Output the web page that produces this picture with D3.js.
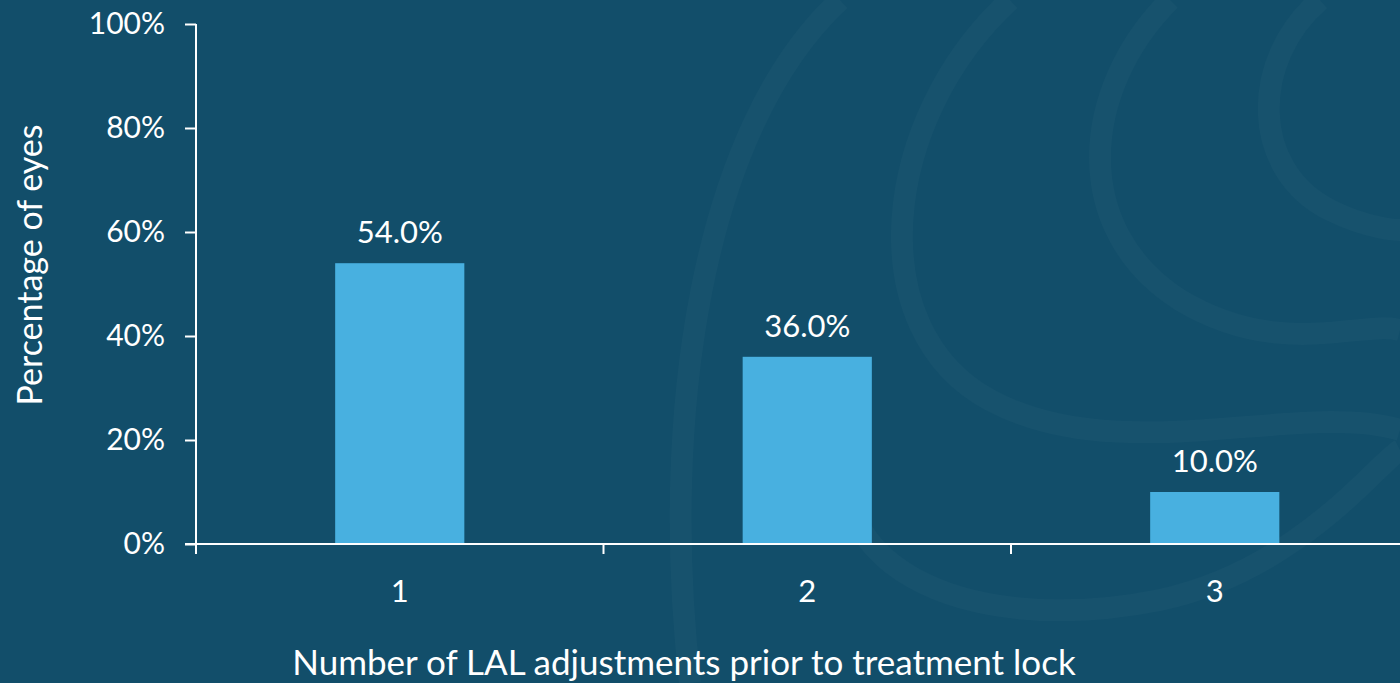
<!DOCTYPE html>
<html>
<head>
<script src="https://d3js.org/d3.v7.min.js"></script>
<style>
body { margin: 0; background: #124e6a; }
svg { display: block; }
text { font-family: Lato, "Open Sans", sans-serif; fill: #ffffff; }
</style>
</head>
<body>
<svg id="chart" width="1400" height="683"></svg>
<script>
var categories = ["1", "2", "3"];
var values = [54.0, 36.0, 10.0];
var yTicks = [0, 20, 40, 60, 80, 100];

var svg = d3.select("#chart");

// faint background swirls
var deco = svg.append("g")
  .attr("fill", "none")
  .attr("stroke", "#ffffff")
  .attr("stroke-opacity", 0.022)
  .attr("stroke-width", 22);
deco.append("path").attr("d", "M690,683 C660,420 700,130 840,0");
deco.append("path").attr("d", "M1010,0 C880,120 860,330 990,400 C1120,470 1300,400 1400,430");
deco.append("path").attr("d", "M1170,0 C1080,90 1070,230 1180,300 C1280,360 1360,320 1400,330");
deco.append("path").attr("d", "M1320,0 C1250,60 1250,170 1330,210 C1370,230 1400,230 1400,230");
deco.append("path").attr("d", "M860,420 C800,560 960,640 1160,600 C1300,570 1380,460 1400,450");

var x = d3.scaleBand()
  .domain(categories)
  .range([196, 1418.5])
  .paddingInner(0.683)
  .paddingOuter(0.3415);

var y = d3.scaleLinear().domain([0, 100]).range([544, 24]);

// y axis
var gy = svg.append("g")
  .attr("transform", "translate(196,0)")
  .call(d3.axisLeft(y).tickValues(yTicks).tickSize(11).tickPadding(20)
    .tickFormat(function(d) { return d + "%"; }));
gy.selectAll("line, path").attr("stroke", "#ffffff").attr("stroke-width", 2);
gy.select(".domain").attr("d", "M0,24V544");
gy.selectAll("text").style("font-size", "30px").attr("fill", "#ffffff")
  .style("font-family", "Lato, sans-serif");

// bars
svg.append("g").selectAll("rect").data(values).enter().append("rect")
  .attr("x", function(d, i) { return x(categories[i]); })
  .attr("y", function(d) { return y(d); })
  .attr("width", x.bandwidth())
  .attr("height", function(d) { return y(0) - y(d); })
  .attr("fill", "#48b0e0");

// value labels
svg.append("g").selectAll("text").data(values).enter().append("text")
  .attr("x", function(d, i) { return x(categories[i]) + x.bandwidth() / 2; })
  .attr("y", function(d) { return y(d) - 20; })
  .attr("text-anchor", "middle")
  .style("font-size", "31px")
  .text(function(d) { return d.toFixed(1) + "%"; });

// x axis line + ticks at band edges
var xg = svg.append("g");
xg.append("line")
  .attr("x1", 185).attr("x2", 1400)
  .attr("y1", y(0)).attr("y2", y(0))
  .attr("stroke", "#ffffff").attr("stroke-width", 2);
xg.selectAll("line.tick").data(categories).enter().append("line")
  .attr("class", "tick")
  .attr("x1", function(d) { return x(d) - x.step() * x.paddingOuter(); })
  .attr("x2", function(d) { return x(d) - x.step() * x.paddingOuter(); })
  .attr("y1", y(0)).attr("y2", y(0) + 10)
  .attr("stroke", "#ffffff").attr("stroke-width", 2);
xg.selectAll("text").data(categories).enter().append("text")
  .attr("x", function(d) { return x(d) + x.bandwidth() / 2; })
  .attr("y", 602)
  .attr("text-anchor", "middle")
  .style("font-size", "31px")
  .text(function(d) { return d; });

// axis titles
svg.append("text")
  .attr("x", 684).attr("y", 675)
  .attr("text-anchor", "middle")
  .style("font-size", "35px")
  .text("Number of LAL adjustments prior to treatment lock");

svg.append("g")
  .attr("transform", "translate(42,265)")
  .append("text")
  .attr("transform", "rotate(-90)")
  .attr("text-anchor", "middle")
  .style("font-size", "34px")
  .text("Percentage of eyes");
</script>
</body>
</html>
